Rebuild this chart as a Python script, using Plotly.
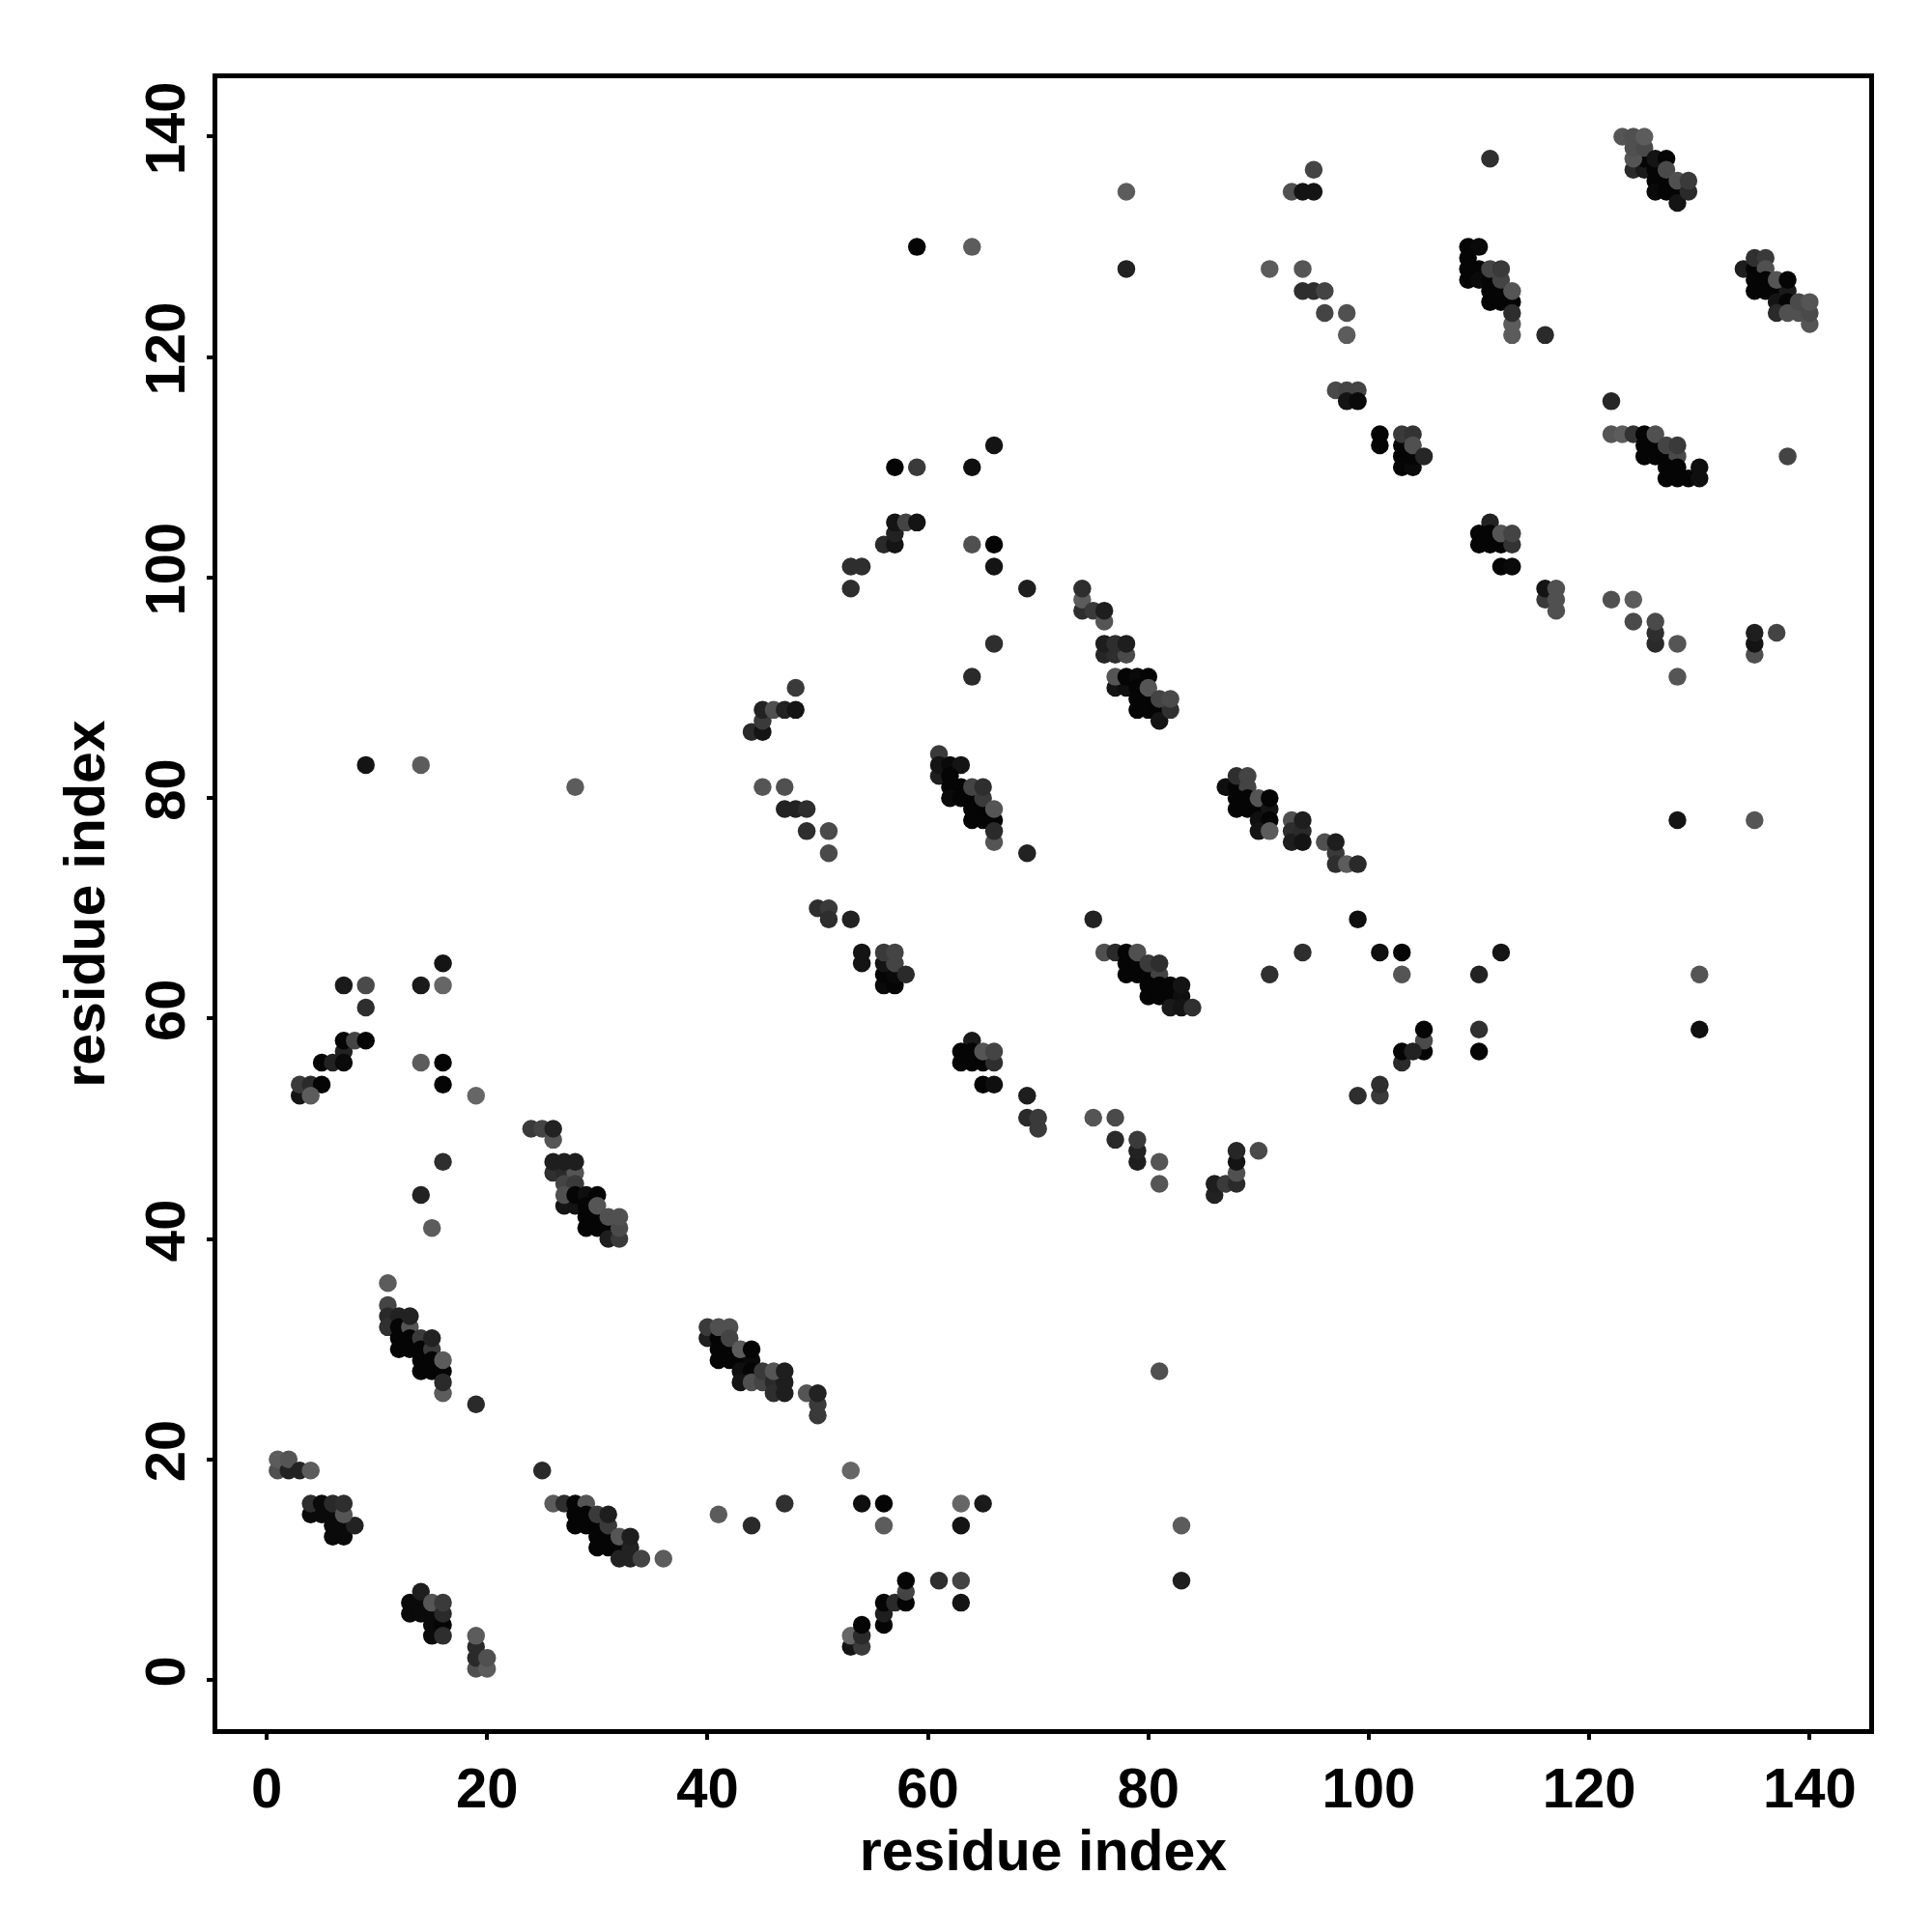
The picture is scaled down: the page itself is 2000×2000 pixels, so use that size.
import plotly.graph_objects as go

# (residue i, residue j, grey level)
cluster_a = [(11,36,0x5c),(11,34,0x44),(11,33,0x2a),(11,32,0x30),(12,33,0x22),(12,32,5),(12,31,5),(12,30,5),(13,32,0x55),(13,33,0x22),(13,31,5),(13,30,5),(14,31,0x3a),(14,30,5),(14,29,5),(14,28,5),(15,30,0x3a),(15,31,0x22),(15,29,5),(15,28,5),(16,28,5),(16,29,0x5c),(16,26,0x5c),(16,27,0x2a),(19,25,0x2a)]
cluster_b = [(1,19,0x50),(1,20,0x5c),(2,19,0x22),(2,20,0x55),(3,19,0x22),(4,19,0x5c)]
cluster_c = [(4,15,10),(5,15,10),(6,15,10),(4,16,0x2e),(5,16,10),(6,16,0x2a),(6,14,10),(7,14,10),(6,13,10),(7,13,10),(8,14,0x22),(7,15,0x55),(7,16,0x2e)]
cluster_d = [(13,7,10),(13,6,10),(14,7,10),(14,6,10),(14,8,0x1e),(15,6,10),(15,5,10),(15,4,10),(15,7,0x55),(16,5,5),(16,4,0x2e),(16,6,0x2a),(16,7,0x3a)]
cluster_e = [(19,1,0x50),(19,2,0x2a),(19,3,0x2a),(19,4,0x5c),(20,1,0x5c),(20,2,0x50)]
cluster_f = [(25,19,0x2a),(26,16,0x5c),(27,16,0x2e),(28,16,5),(29,16,0x55),(28,15,5),(29,15,5),(28,14,5),(29,14,5),(30,14,5),(30,13,5),(31,13,5),(30,12,5),(31,12,5),(32,12,5),(31,14,0x3a),(30,15,0x3a),(31,15,0x1e),(32,13,0x55),(32,11,0x22),(33,11,0x22),(33,12,0x22),(33,13,0x1e),(34,11,0x44),(36,11,0x5c)]
cluster_g = [(24,50,0x3a),(25,50,0x44),(26,49,0x55),(26,50,0x22),(26,46,0x30),(27,46,0x2a),(28,46,0x55),(26,47,0x1e),(27,47,0x1e),(28,47,0x1e),(27,45,0x44),(28,45,0x3a),(27,43,0x14),(28,43,0x14),(27,44,0x50),(28,44,5),(29,44,0x0f),(29,43,5),(29,42,5),(29,41,5),(30,42,5),(30,41,5),(31,41,5),(30,44,5),(30,43,0x55),(31,40,0x1e),(32,40,0x3a),(32,41,0x4a),(31,42,0x50),(32,42,0x50)]
cluster_h = [(40,31,0x1e),(40,32,0x3a),(41,31,5),(41,30,5),(41,29,5),(42,30,5),(42,29,5),(41,32,0x50),(42,32,0x50),(42,31,0x44),(43,29,5),(44,29,10),(43,30,0x5c),(44,30,5),(43,28,0x0f),(44,28,5),(43,27,0x14),(44,27,0x50),(45,27,0x44),(45,28,0x3a),(46,27,0x2a),(46,26,0x2e),(47,26,0x1e),(47,27,0x1e),(46,28,0x55),(47,28,0x1e),(49,26,0x55),(50,24,0x3a),(50,25,0x3a),(50,26,0x22)]
cluster_i = [(16,65,0x14),(7,63,0x1a),(9,63,0x4a),(14,63,0x1a),(16,63,0x66),(9,61,0x2e),(7,57,0x22),(7,58,5),(8,58,0x44),(9,58,5),(5,56,5),(6,56,0x22),(7,56,10),(3,53,0x14),(3,54,0x3a),(4,54,0x2a),(5,54,5),(4,53,0x5c),(14,56,0x5c),(16,56,5),(16,54,5),(19,53,0x66),(16,47,0x2e),(14,44,0x22),(15,41,0x5c)]
cluster_j = [(61,84,0x3a),(61,82,0x1e),(61,83,0x14),(62,83,10),(63,83,0x14),(62,82,5),(62,81,5),(63,81,5),(62,80,10),(63,80,5),(64,80,5),(64,79,5),(65,79,5),(64,78,5),(65,78,5),(66,78,5),(65,80,0x3a),(64,81,0x44),(65,81,0x2e),(66,79,0x55),(66,76,0x55),(66,77,0x2a),(69,75,0x22)]
cluster_k = [(87,81,0x0f),(88,81,5),(88,82,0x2e),(89,81,0x44),(89,82,0x44),(88,80,5),(89,80,5),(88,79,5),(89,79,5),(90,79,5),(90,80,0x55),(91,79,0x14),(91,80,5),(90,78,0x0f),(91,78,5),(90,77,0x14),(91,77,0x5c),(93,78,0x50),(93,77,0x2e),(93,76,0x1e),(94,77,0x2a),(94,76,0x14),(94,78,0x1e),(96,76,0x50),(97,75,0x3a),(97,74,0x2e),(98,74,0x5c),(99,74,0x2a),(97,76,0x1e)]
cluster_m = [(75,69,0x22),(76,66,0x50),(77,66,0x2a),(78,66,5),(78,65,5),(79,65,5),(78,64,5),(79,64,5),(80,64,5),(79,66,0x50),(81,64,0x44),(80,65,0x3a),(81,65,0x2e),(80,63,5),(81,63,5),(82,63,5),(80,62,5),(81,62,5),(82,62,5),(83,62,0x0f),(83,63,0x14),(82,61,0x1a),(83,61,0x14),(84,61,0x30),(91,64,0x30),(94,66,0x2e),(99,69,0x0f),(101,66,0x0f),(103,66,5),(103,64,0x55),(110,64,0x22),(112,66,0x14),(110,59,0x30),(110,57,5)]
cluster_n = [(105,57,5),(105,58,0x4a),(105,59,5),(103,56,0x2a),(103,57,5),(104,57,0x22),(101,53,0x3a),(101,54,0x2e),(99,53,0x2e),(86,44,0x22),(86,45,0x1e),(87,45,0x3a),(88,45,0x2a),(88,46,0x50),(88,47,0x14),(88,48,0x26),(90,48,0x4a)]
cluster_o = [(64,58,0x1a),(63,57,5),(64,57,5),(63,56,5),(64,56,5),(65,56,5),(66,56,0x2e),(65,57,0x55),(66,57,0x44),(65,54,5),(66,54,0x0f),(69,53,0x1e),(69,51,0x2a),(70,50,0x3a),(70,51,0x3a),(75,51,0x55),(77,51,0x4a),(77,49,0x2a),(79,47,0x1e),(79,48,0x22),(79,49,0x3a),(81,47,0x55),(81,45,0x55),(81,28,0x50)]
cluster_p = [(41,15,0x5c),(44,14,0x2a),(47,16,0x30),(53,19,0x66),(54,16,0x0f),(56,16,5),(56,14,0x5c),(63,16,0x66),(65,16,0x1a),(63,14,0x14),(83,14,0x5c),(83,9,0x1e),(63,9,0x44),(61,9,0x2e),(63,7,0x14),(53,3,0x14),(53,4,0x66),(54,3,0x3a),(54,4,0x2a),(54,5,5),(56,5,5),(56,6,0x1e),(56,7,5),(57,7,0x2a),(58,7,5),(58,8,0x44),(58,9,5)]
cluster_q = [(74,97,0x2e),(74,98,0x5c),(74,99,0x2e),(75,97,0x3a),(76,96,0x55),(76,97,0x1e),(76,93,0x26),(77,93,0x2e),(78,93,0x4a),(76,94,0x1e),(77,94,0x2e),(78,94,0x1e),(77,90,0x14),(78,90,0x0f),(77,91,0x55),(78,91,5),(79,91,10),(79,90,5),(79,89,5),(79,88,5),(80,89,5),(80,88,5),(81,88,5),(80,91,5),(80,90,0x55),(81,87,0x14),(82,88,0x30),(81,89,0x44),(82,89,0x4a)]
cluster_r = [(109,130,5),(110,130,10),(109,129,5),(109,128,5),(110,128,5),(109,127,5),(110,127,10),(111,127,5),(111,126,5),(112,126,5),(111,125,5),(112,125,5),(113,125,5),(112,127,0x44),(111,128,0x44),(112,128,0x3a),(113,126,0x55),(113,122,0x5c),(113,123,0x5c),(113,124,0x2e),(116,122,0x2a)]
cluster_s = [(134,128,0x1e),(135,128,5),(135,129,0x30),(136,129,0x3a),(136,128,0x50),(135,127,5),(136,127,5),(135,126,5),(136,126,5),(137,126,5),(137,125,0x14),(138,126,0x1a),(138,125,5),(137,127,0x55),(138,127,5),(137,124,0x2a),(138,124,0x50),(139,124,0x50),(140,123,0x55),(140,124,0x4a),(139,125,0x4a),(140,125,0x55)]
cluster_t = [(124,137,0x2a),(125,137,0x1a),(125,138,5),(124,138,0x55),(124,139,0x50),(125,139,0x4a),(123,140,0x55),(124,140,0x50),(125,140,0x5c),(126,137,5),(126,136,5),(126,135,10),(127,136,5),(127,135,5),(128,135,5),(126,138,0x14),(127,138,5),(127,137,0x4a),(128,134,0x14),(128,136,0x50),(129,135,0x2a),(129,136,0x3a)]
cluster_u = [(122,116,0x26),(122,113,0x55),(123,113,0x5c),(124,113,0x33),(125,113,5),(125,112,5),(125,111,5),(126,112,5),(126,111,5),(127,111,5),(126,113,0x50),(127,112,0x44),(128,111,0x4a),(128,112,0x3a),(127,110,5),(128,110,5),(127,109,5),(128,109,5),(129,109,5),(130,109,0x0f),(130,110,0x0f),(138,111,0x44)]
cluster_v = [(111,105,0x22),(110,104,5),(111,104,5),(110,103,5),(111,103,5),(112,103,5),(112,104,0x55),(113,103,0x33),(113,104,0x44),(112,101,5),(113,101,10),(116,98,0x3a),(116,99,0x14),(117,97,0x50),(117,98,0x50),(117,99,0x50),(122,98,0x50),(124,98,0x5c),(124,96,0x4a),(126,94,0x2a),(126,95,0x2e),(126,96,0x4a),(128,94,0x55),(128,91,0x55),(135,93,0x50),(135,94,0x14),(135,95,0x1e),(137,95,0x44)]
cluster_w = [(101,112,5),(101,113,5),(103,110,5),(103,111,5),(103,112,5),(104,110,10),(104,111,5),(103,113,0x3a),(104,113,0x33),(104,112,0x50),(105,111,0x26),(97,117,0x4a),(98,117,0x44),(99,117,0x44),(98,116,0x14),(99,116,10)]
cluster_x = [(44,86,0x2a),(45,86,0x14),(45,87,0x3a),(45,88,0x22),(46,88,0x50),(47,88,0x22),(48,88,0x14),(48,90,0x3a),(45,81,0x55),(47,81,0x50),(47,79,0x22),(48,79,0x22),(49,79,0x2e),(49,77,0x2e),(51,77,0x4a),(51,75,0x4a),(50,70,0x2e),(51,70,0x3a),(51,69,0x2e),(53,69,0x22),(54,65,0x14),(54,66,0x14),(56,63,10),(57,63,5),(56,64,5),(57,64,10),(56,65,0x14),(57,65,0x44),(58,64,0x2a),(56,66,0x3a),(57,66,0x44)]
cluster_y = [(53,99,0x2e),(53,101,0x2e),(54,101,0x2e),(56,103,0x2a),(57,103,0x14),(57,104,0x22),(57,105,0x14),(58,105,0x44),(59,105,0x14),(57,110,5),(59,110,0x3a),(64,110,0x0f),(66,112,0x14),(64,103,0x50),(66,103,5),(66,101,0x14),(69,99,0x1e),(66,94,0x2e),(64,91,0x2a),(59,130,5),(64,130,0x5c),(78,135,0x5c),(78,128,0x22),(9,83,0x14),(14,83,0x5c),(28,81,0x5c)]
cluster_z = [(91,128,0x5c),(94,128,0x55),(94,126,0x2e),(95,126,0x2e),(96,126,0x44),(96,124,0x44),(98,124,0x50),(98,122,0x5c),(93,135,0x50),(94,135,0x14),(95,135,0x14),(95,137,0x44),(111,138,0x30),(128,78,0x14),(135,78,0x55),(130,64,0x55),(130,59,0x0f)]

clusters = [cluster_a, cluster_b, cluster_c, cluster_d, cluster_e, cluster_f, cluster_g,
            cluster_h, cluster_i, cluster_j, cluster_k, cluster_m, cluster_n, cluster_o,
            cluster_p, cluster_q, cluster_r, cluster_s, cluster_t, cluster_u, cluster_v,
            cluster_w, cluster_x, cluster_y, cluster_z]
points = [p for c in clusters for p in c]
tick_values = [0, 20, 40, 60, 80, 100, 120, 140]
axis_label = "residue index"

FONT = "Liberation Sans"
fig = go.Figure(go.Scatter(
    x=[p[0] for p in points], y=[p[1] for p in points], mode="markers",
    marker=dict(size=18.5, color=[p[2] for p in points], cmin=0, cmax=255,
                colorscale=[[0, "#000000"], [1, "#ffffff"]], line_width=0, showscale=False),
))
axis = dict(showgrid=False, zeroline=False, showline=True, mirror=True, linecolor="black",
            linewidth=5, ticks="outside", ticklen=6, tickwidth=4, tickcolor="black",
            tickvals=tick_values, ticktext=[str(v) for v in tick_values],
            tickfont=dict(family=FONT, size=58, color="black", weight="bold"),
            title=dict(text=f"<b>{axis_label}</b>", font=dict(family=FONT, size=59, color="black"), standoff=12))
fig.update_layout(
    width=2000, height=2000, autosize=False, showlegend=False,
    paper_bgcolor="white", plot_bgcolor="white",
    margin=dict(l=217, r=73, t=73, b=218, pad=0),
    xaxis=dict(axis, range=[-4.47, 145.4], automargin=False),
    yaxis=dict(axis, range=[-4.47, 145.3], tickangle=-90, automargin=False),
)
fig.write_html("out.html")
